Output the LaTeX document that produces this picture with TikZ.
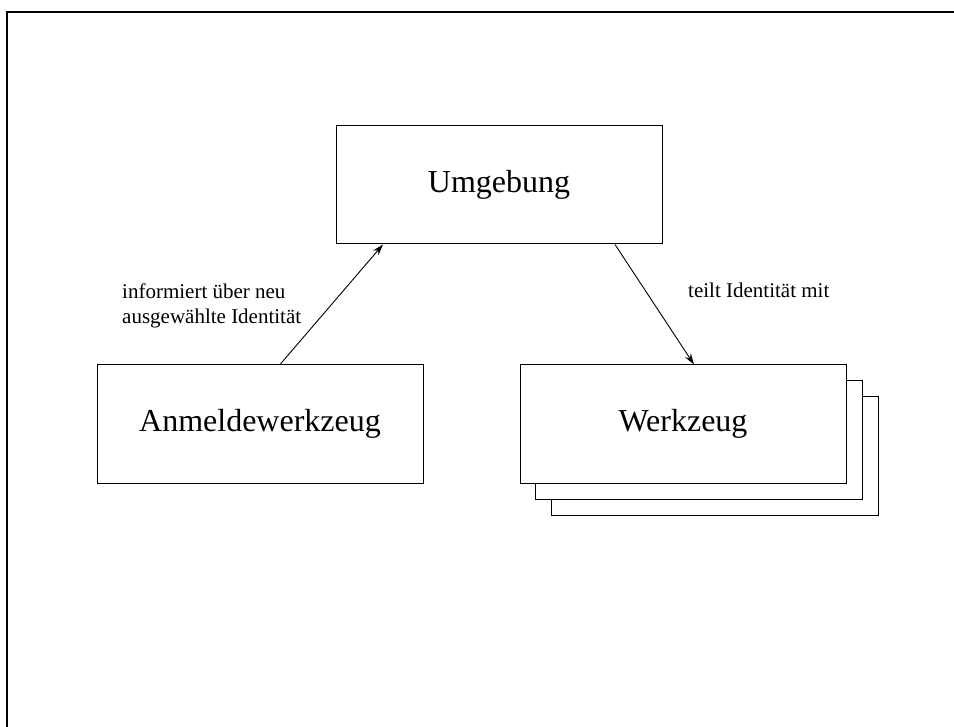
\documentclass[tikz,border=0pt]{standalone}
\usepackage{fontspec}
\setmainfont{Liberation Serif}
\usepackage{tikz}
\usetikzlibrary{positioning, arrows.meta, calc, backgrounds}

\begin{document}
\begin{tikzpicture}[x=1pt, y=-1pt,
    box/.style={draw, line width=1pt, fill=white, minimum width=326pt,
      minimum height=118pt, inner sep=0pt, font=\fontsize{32}{38}\selectfont},
    lbl/.style={inner sep=0pt, align=left, font=\fontsize{21}{25}\selectfont},
    pfeil/.style={-{Stealth[length=11pt, width=7pt]}, line width=0.9pt}]
    \useasboundingbox (0,0) rectangle (954,727);
    % Rahmen
    \draw[line width=2pt] (7,727) -- (7,12) -- (954,12);
    % Kästen
    \node[box] (umg) at (499,185) {Umgebung};
    \node[box] (anm) at (260,424) {Anmeldewerkzeug};
    \node[box] (wz) at (683,424) {Werkzeug};
    % Stapel hinter dem Werkzeug
    \begin{pgfonlayer}{background}
      \draw[line width=1pt, fill=white] ($(wz.north west)+(32,32)$) rectangle ($(wz.south east)+(32,32)$);
      \draw[line width=1pt, fill=white] ($(wz.north west)+(16,16)$) rectangle ($(wz.south east)+(16,16)$);
    \end{pgfonlayer}
    % Pfeile
    \draw[pfeil] ([xshift=20pt]anm.north) -- ([xshift=-116pt]umg.south);
    \draw[pfeil] ([xshift=116pt]umg.south) -- ([xshift=11pt]wz.north);
    % Beschriftungen
    \node[lbl, anchor=north west] (info) at (122,284) {informiert über neu\\ausgewählte Identität};
    \node[lbl, anchor=base west] (teilt) at (688,298) {teilt Identität mit};
\end{tikzpicture}
\end{document}
